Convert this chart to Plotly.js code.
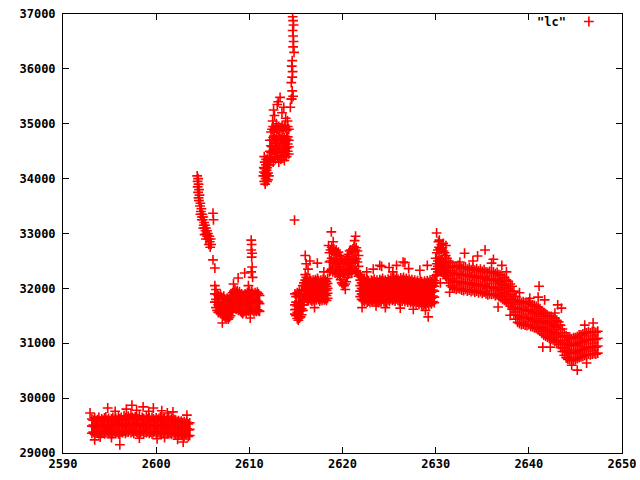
<!DOCTYPE html>
<html>
<head>
<meta charset="utf-8">
<script src="https://cdn.plot.ly/plotly-3.0.1.min.js"></script>
<style>html,body{margin:0;padding:0;background:#fff;}#chart{width:640px;height:480px;}</style>
</head>
<body>
<div id="chart"></div>
<script>
// ---- light curve "lc" : time (x) and flux (y) ----
// Segment A
var segAx = [2593.1,2593.25,2593.4,2593.55,2593.7,2593.85,2594.0,2594.15,2594.3,2594.45,2594.6,2594.75,2594.9,2595.05,2595.2,2595.35,2595.5,2595.65,2595.8,2595.95,2596.1,2596.25,2596.4,2596.55,2596.7,2596.85,2597.0,2597.15,2597.3,2597.45,2597.6,2597.75,2597.9,2598.05,2598.2,2598.35,2598.5,2598.65,2598.8,2598.95,2599.1,2599.25,2599.4,2599.55,2599.7,2599.85,2600.0,2600.15,2600.3,2600.45,2600.6,2600.75,2600.9,2601.05,2601.2,2601.35,2601.5,2601.65,2601.8,2601.95,2602.1,2602.25,2602.4,2602.55,2602.7,2602.85,2603.0,2603.15,2603.3,2603.45,2603.6];
var segAhi = [29620,29600,29640,29590,29610,29650,29580,29620,29600,29640,29660,29600,29630,29590,29620,29650,29600,29640,29610,29660,29620,29650,29600,29680,29640,29620,29670,29630,29700,29650,29610,29660,29640,29620,29680,29600,29650,29630,29610,29660,29620,29640,29600,29650,29620,29600,29640,29610,29630,29660,29600,29620,29640,29590,29610,29650,29600,29620,29580,29610,29600,29570,29590,29560,29580,29550,29570,29540,29560,29530,29550];
var segAmid = [29490,29510,29480,29500,29470,29520,29490,29500,29480,29510,29500,29490,29520,29480,29500,29510,29490,29530,29500,29510,29490,29520,29500,29530,29510,29490,29540,29510,29520,29500,29510,29530,29500,29520,29490,29510,29530,29500,29490,29520,29500,29510,29490,29520,29500,29480,29510,29490,29500,29520,29490,29500,29510,29480,29500,29490,29470,29500,29480,29470,29460,29480,29450,29470,29440,29460,29430,29450,29440,29420,29430];
var segAlo = [29360,29380,29340,29390,29370,29350,29400,29360,29380,29350,29370,29390,29360,29380,29340,29370,29390,29360,29380,29350,29330,29380,29370,29400,29360,29390,29380,29410,29370,29390,29360,29400,29380,29350,29390,29370,29400,29360,29380,29370,29390,29360,29380,29350,29370,29390,29360,29380,29370,29350,29380,29360,29370,29390,29350,29370,29360,29340,29370,29350,29340,29360,29330,29350,29320,29340,29310,29330,29320,29300,29320];
var segAoutX = [2592.9,2593.4,2594.0,2594.8,2595.6,2596.1,2596.8,2597.4,2597.9,2598.6,2599.2,2599.7,2600.1,2600.6,2601.2,2601.8,2602.3,2602.9,2603.3,2595.2,2598.2,2600.9];
var segAoutY = [29730,29240,29290,29820,29760,29150,29800,29870,29780,29840,29760,29820,29260,29770,29730,29750,29250,29200,29690,29280,29270,29280];
// Segment B (steep decline)
var segBx = [2604.4,2604.45,2604.5,2604.45,2604.55,2604.5,2604.6,2604.55,2604.65,2604.7,2604.75,2604.8,2604.85,2604.9,2604.95,2605.0,2605.05,2605.1,2605.15,2605.2,2605.25,2605.3,2605.35,2605.4,2605.45,2605.5,2605.55,2605.6,2605.7,2605.75,2605.85,2605.9];
var segBy = [34050,33950,34000,33850,33900,33750,33800,33650,33700,33500,33550,33400,33450,33300,33350,33250,33300,33150,33200,33100,33150,33050,33100,33000,33050,32950,33000,32900,32950,32850,32900,32800];
var segB2x = [2604.6,2604.75,2604.9,2605.05,2605.2,2605.35,2605.5,2605.65,2605.8,2606.1,2606.15,2606.1,2606.3];
var segB2y = [33600,33350,33250,33100,32980,32900,32950,32800,32750,33370,33250,32520,32370];
// Segment C
var segCx = [2606.3,2606.42,2606.54,2606.66,2606.78,2606.9,2607.02,2607.14,2607.26,2607.38,2607.5,2607.62,2607.74,2607.86,2607.98,2608.1,2608.22,2608.34,2608.46,2608.58,2608.7,2608.82,2608.94,2609.06,2609.18,2609.3,2609.42,2609.54,2609.66,2609.78,2609.9,2610.02,2610.14,2610.26,2610.38,2610.5,2610.62,2610.74,2610.86,2610.98,2611.1];
var segChi = [32050,31980,31900,31870,31850,31880,31840,31820,31860,31800,31780,31820,31760,31800,31840,31880,31920,31950,31980,31930,31960,31900,31940,31880,31900,31850,31870,31900,31880,31920,31890,31940,31900,31950,31910,31880,31920,31890,31930,31900,31870];
var segCmid = [31900,31800,31750,31700,31720,31680,31710,31660,31690,31640,31620,31650,31600,31640,31680,31720,31760,31800,31820,31780,31800,31760,31780,31720,31740,31700,31720,31750,31730,31760,31740,31770,31750,31790,31760,31730,31760,31740,31770,31750,31720];
var segClo = [31750,31650,31600,31560,31580,31540,31570,31520,31500,31480,31460,31480,31440,31470,31500,31560,31600,31640,31660,31620,31640,31600,31620,31580,31560,31540,31570,31590,31560,31600,31580,31610,31590,31620,31600,31570,31600,31580,31610,31590,31580];
var segCoutX = [2610.2,2610.25,2610.2,2610.3,2610.25,2610.3,2610.2,2610.35,2608.8,2609.5,2607.1,2610.1,2609.9,2608.3];
var segCoutY = [32880,32800,32700,32640,32570,32390,32300,32200,32190,32280,31370,31460,32050,32080];
// Segment D (brightening)
var segDlowX = [2611.5,2611.55,2611.6,2611.65,2611.7,2611.75,2611.8,2611.85,2611.9,2611.95,2612.0,2612.05,2612.1,2611.6,2611.7,2611.8,2611.9,2612.0,2611.55,2611.75,2611.95,2611.65,2611.85,2612.05];
var segDlowY = [34050,34200,33950,34300,34100,34000,34250,34150,33950,34350,34100,34250,34050,34400,33900,34350,34200,33980,34120,34050,34300,34180,34080,34330];
var segDx = [2612.2,2612.32,2612.44,2612.56,2612.68,2612.8,2612.92,2613.04,2613.16,2613.28,2613.4,2613.52,2613.64,2613.76,2613.88,2614.0,2614.12,2614.24];
var segDhi = [34700,34850,34900,34950,34880,34920,34960,34900,34950,34880,34930,34970,34900,34950,34920,34880,34950,34900];
var segDmid = [34500,34600,34700,34750,34650,34720,34780,34700,34760,34650,34720,34780,34700,34740,34680,34720,34760,34700];
var segDml = [34380,34480,34580,34520,34530,34540,34640,34540,34530,34540,34530,34630,34550,34540,34560,34560,34630,34580];
var segDlo = [34250,34350,34450,34300,34400,34350,34500,34380,34300,34420,34350,34480,34400,34330,34450,34400,34500,34450];
var segDtopX = [2612.5,2612.7,2612.9,2613.1,2613.3,2613.5,2613.7,2613.9,2614.1,2612.6,2613.0,2614.4,2614.5,2614.55,2614.6,2614.5,2614.6,2614.65,2614.55,2614.6,2614.7,2614.65,2614.7,2614.75,2614.65,2614.7,2614.75,2614.7,2614.8,2614.85];
var segDtopY = [35050,35150,35000,35400,35480,35200,35300,35100,35050,35250,35350,35300,35450,35450,35600,35750,35850,35950,36050,36150,35500,36950,36880,36800,36700,36600,36500,36400,36300,33245];
// Segment E
var segE1x = [2614.9,2615.02,2615.14,2615.26,2615.38,2615.5,2615.62,2615.74,2615.86];
var segE1hi = [31900,31850,31920,31880,31950,31900,31980,32050,32100];
var segE1mid = [31700,31750,31680,31720,31760,31700,31750,31800,31880];
var segE1ml = [31610,31620,31560,31570,31610,31590,31630,31700,31790];
var segE1lo = [31530,31500,31450,31420,31460,31480,31520,31600,31700];
var segE2x = [2616.0,2616.12,2616.24,2616.36,2616.48,2616.6,2616.72,2616.84,2616.96,2617.08,2617.2,2617.32,2617.44,2617.56,2617.68,2617.8,2617.92,2618.04,2618.16,2618.28,2618.4];
var segE2hi = [32250,32200,32150,32120,32180,32140,32100,32150,32120,32160,32130,32180,32140,32100,32150,32120,32170,32130,32150,32120,32180];
var segE2mh = [32150,32100,32070,32040,32090,32060,32020,32070,32040,32080,32050,32100,32060,32030,32070,32040,32090,32050,32070,32040,32090];
var segE2mid = [32050,32000,31980,31960,32000,31970,31940,31990,31960,32000,31970,32010,31980,31950,31990,31960,32000,31970,31990,31960,32000];
var segE2ml = [31950,31910,31890,31870,31910,31880,31860,31900,31870,31910,31880,31920,31890,31860,31900,31870,31910,31880,31900,31870,31910];
var segE2lo = [31850,31820,31800,31780,31820,31790,31770,31800,31780,31820,31790,31830,31800,31770,31810,31780,31820,31790,31810,31780,31820];
var segEoutX = [2616.0,2616.1,2616.5,2617.3,2616.3,2618.0,2617.0];
var segEoutY = [32600,32450,32500,32460,32350,32300,31650];
// Segment F
var segFx = [2618.6,2618.72,2618.84,2618.96,2619.08,2619.2,2619.32,2619.44,2619.56,2619.68,2619.8,2619.92,2620.04,2620.16,2620.28,2620.4,2620.52,2620.64,2620.76,2620.88,2621.0,2621.12,2621.24,2621.36,2621.48,2621.6,2621.72];
var segFhi = [32650,32700,32750,32680,32720,32650,32700,32620,32660,32600,32550,32520,32480,32450,32500,32520,32580,32620,32680,32700,32650,32720,32760,32700,32740,32680,32600];
var segFmid = [32480,32500,32550,32480,32520,32460,32500,32440,32460,32400,32350,32300,32280,32250,32280,32320,32380,32420,32480,32500,32460,32520,32550,32500,32540,32480,32400];
var segFlo = [32300,32320,32350,32300,32340,32280,32320,32260,32280,32220,32160,32100,32070,32050,32080,32120,32200,32260,32300,32320,32280,32340,32350,32300,32320,32280,32220];
var segFoutX = [2618.8,2621.4,2621.3,2619.0,2620.3,2618.5];
var segFoutY = [33030,32950,32870,32850,31980,32780];
// Segment G
var segGx = [2621.9,2622.05,2622.2,2622.35,2622.5,2622.65,2622.8,2622.95,2623.1,2623.25,2623.4,2623.55,2623.7,2623.85,2624.0,2624.15,2624.3,2624.45,2624.6,2624.75,2624.9,2625.05,2625.2,2625.35,2625.5,2625.65,2625.8,2625.95,2626.1,2626.25,2626.4,2626.55,2626.7,2626.85,2627.0,2627.15,2627.3,2627.45,2627.6,2627.75,2627.9,2628.05,2628.2,2628.35,2628.5,2628.65,2628.8,2628.95,2629.1,2629.25,2629.4,2629.55,2629.7,2629.85];
var segGhi = [32250,32200,32150,32180,32120,32160,32140,32100,32150,32130,32170,32120,32150,32110,32160,32140,32180,32130,32150,32120,32170,32140,32190,32150,32200,32160,32210,32170,32140,32190,32160,32200,32150,32180,32140,32170,32130,32160,32120,32150,32110,32140,32100,32150,32120,32090,32130,32100,32140,32110,32150,32120,32160,32140];
var segGmh = [32150,32100,32070,32070,32060,32050,32060,32020,32060,32040,32080,32040,32060,32020,32070,32050,32090,32040,32070,32030,32080,32060,32100,32060,32110,32080,32120,32080,32060,32100,32070,32110,32060,32090,32050,32080,32040,32070,32030,32060,32020,32050,32010,32050,32010,31990,32030,32000,32040,32010,32050,32020,32060,32040];
var segGmid = [32050,32000,31980,31960,31990,31950,31970,31940,31980,31960,31990,31950,31970,31940,31980,31960,32000,31960,31980,31950,31990,31970,32010,31980,32020,31990,32030,32000,31970,32010,31980,32020,31970,32000,31960,31990,31950,31980,31940,31970,31930,31960,31920,31950,31910,31890,31930,31900,31940,31910,31950,31930,31970,31950];
var segGml = [31950,31900,31880,31860,31890,31850,31870,31840,31880,31860,31890,31850,31870,31840,31880,31860,31900,31860,31880,31850,31890,31870,31910,31880,31910,31880,31920,31890,31860,31900,31870,31910,31860,31890,31850,31880,31840,31870,31830,31860,31820,31850,31810,31840,31800,31780,31820,31790,31830,31800,31840,31820,31860,31840];
var segGlo = [31850,31800,31780,31760,31790,31750,31770,31740,31780,31760,31790,31750,31770,31740,31780,31760,31800,31760,31780,31750,31790,31770,31810,31780,31800,31770,31810,31780,31760,31800,31770,31800,31760,31790,31750,31780,31740,31770,31730,31760,31720,31750,31710,31740,31700,31680,31720,31690,31730,31700,31740,31720,31760,31740];
var segGoutX = [2622.1,2622.6,2623.3,2624.0,2624.2,2625.0,2625.8,2626.5,2626.7,2626.2,2627.6,2628.3,2629.1,2629.2,2624.6,2625.4,2627.1,2628.9,2623.6];
var segGoutY = [31650,32300,32350,32420,32400,32380,32420,32480,32470,31640,31620,32330,32420,31480,31650,32300,32360,31600,31680];
// Segment H
var segHx = [2630.0,2630.12,2630.24,2630.36,2630.48,2630.6,2630.72,2630.84,2630.96,2631.08,2631.2];
var segHhi = [32550,32650,32700,32750,32720,32700,32740,32680,32650,32600,32550];
var segHmid = [32350,32450,32500,32550,32520,32500,32530,32480,32450,32420,32380];
var segHml = [32230,32350,32400,32450,32420,32400,32430,32380,32350,32320,32280];
var segHlo = [32100,32250,32300,32350,32320,32300,32330,32280,32250,32220,32180];
var segHoutX = [2630.1,2630.4,2630.8,2631.1,2630.3,2630.6,2630.5];
var segHoutY = [33010,32880,32820,32780,32850,32800,32100];
// Segment I (slow decline)
var segIx = [2631.4,2631.6,2631.8,2632.0,2632.2,2632.4,2632.6,2632.8,2633.0,2633.2,2633.4,2633.6,2633.8,2634.0,2634.2,2634.4,2634.6,2634.8,2635.0,2635.2,2635.4,2635.6,2635.8,2636.0,2636.2,2636.4,2636.6,2636.8,2637.0,2637.2,2637.4,2637.6,2637.8,2638.0,2638.2,2638.4,2638.6,2638.8,2639.0,2639.2,2639.4,2639.6,2639.8,2640.0,2640.2,2640.4,2640.6,2640.8,2641.0,2641.2,2641.4,2641.6,2641.8,2642.0,2642.2,2642.4,2642.6,2642.8,2643.0,2643.2,2643.4,2643.6,2643.8,2644.0,2644.2,2644.4,2644.6,2644.8,2645.0,2645.2,2645.4,2645.6,2645.8,2646.0,2646.2,2646.4,2646.6,2646.8,2647.0,2647.2,2647.4];
var segIhi = [32500,32470,32410,32400,32390,32420,32380,32370,32380,32390,32350,32380,32340,32370,32330,32360,32320,32350,32310,32340,32300,32290,32310,32280,32300,32270,32290,32250,32240,32200,32190,32150,32130,32080,32040,31950,31850,31780,31760,31740,31760,31730,31720,31750,31710,31700,31690,31670,31660,31630,31590,31560,31540,31510,31490,31490,31460,31450,31420,31390,31330,31260,31190,31140,31110,31110,31080,31100,31100,31120,31150,31150,31170,31190,31190,31210,31190,31210,31210,31200,31220];
var segImh = [32370,32320,32290,32270,32250,32270,32260,32240,32230,32250,32220,32240,32210,32230,32200,32220,32190,32210,32180,32200,32170,32150,32170,32160,32170,32140,32150,32120,32100,32070,32050,32020,31990,31950,31890,31790,31710,31650,31630,31610,31620,31600,31590,31610,31580,31570,31550,31540,31520,31490,31450,31420,31400,31380,31360,31350,31330,31310,31290,31250,31190,31120,31050,31010,30980,30970,30950,30960,30970,30990,31010,31020,31030,31050,31060,31070,31060,31070,31080,31070,31090];
var segIml = [32230,32180,32150,32130,32110,32130,32120,32100,32090,32110,32080,32100,32070,32090,32060,32080,32050,32070,32040,32060,32030,32010,32030,32020,32030,32000,32010,31980,31960,31930,31910,31880,31850,31810,31750,31650,31570,31510,31490,31470,31480,31460,31450,31470,31440,31430,31410,31400,31380,31350,31310,31280,31260,31240,31220,31210,31190,31170,31150,31110,31050,30980,30910,30870,30840,30830,30810,30820,30830,30850,30870,30880,30890,30910,30920,30930,30920,30930,30940,30930,30950];
var segIlo = [32100,32050,32020,32000,31980,32000,31990,31970,31960,31980,31950,31970,31940,31960,31930,31950,31920,31940,31910,31930,31900,31880,31900,31890,31900,31870,31880,31850,31830,31800,31780,31750,31720,31680,31620,31520,31440,31380,31360,31340,31350,31330,31320,31340,31310,31300,31280,31270,31250,31220,31180,31150,31130,31110,31090,31080,31060,31040,31020,30980,30920,30850,30780,30740,30710,30700,30680,30690,30700,30720,30740,30750,30760,30780,30790,30800,30790,30800,30810,30800,30820];
var segIoutX = [2633.1,2634.5,2635.3,2636.2,2637.1,2636.0,2641.1,2641.0,2641.7,2643.1,2643.5,2641.5,2642.3,2646.0,2646.9,2645.2,2644.1,2646.2,2638.0,2639.0,2640.1,2636.7,2631.5,2632.6,2634.0,2637.6,2642.8,2644.6];
var segIoutY = [32640,32590,32700,32530,32420,32460,32040,31840,31790,31700,31640,30930,30930,31330,31370,30510,30730,30640,31510,31920,31820,31660,31930,32480,32500,32300,31550,30600];

var xTickVals = [2590,2600,2610,2620,2630,2640,2650];
var yTickVals = [29000,30000,31000,32000,33000,34000,35000,36000,37000];
var seriesName = '"lc"';

// ---- assemble the point list ----
var X = [], Y = [];
function addLevels(xs, levels) {
  levels.forEach(function (lv) {
    for (var i = 0; i < xs.length && i < lv.length; i++) { X.push(xs[i]); Y.push(lv[i]); }
  });
}
addLevels(segAx, [segAhi, segAmid, segAlo]);
addLevels(segAoutX, [segAoutY]);
addLevels(segBx, [segBy]);
addLevels(segB2x, [segB2y]);
addLevels(segCx, [segChi, segCmid, segClo]);
addLevels(segCoutX, [segCoutY]);
addLevels(segDlowX, [segDlowY]);
addLevels(segDx, [segDhi, segDmid, segDml, segDlo]);
addLevels(segDtopX, [segDtopY]);
addLevels(segE1x, [segE1hi, segE1mid, segE1ml, segE1lo]);
addLevels(segE2x, [segE2hi, segE2mh, segE2mid, segE2ml, segE2lo]);
addLevels(segEoutX, [segEoutY]);
addLevels(segFx, [segFhi, segFmid, segFlo]);
addLevels(segFoutX, [segFoutY]);
addLevels(segGx, [segGhi, segGmh, segGmid, segGml, segGlo]);
addLevels(segGoutX, [segGoutY]);
addLevels(segHx, [segHhi, segHmid, segHml, segHlo]);
addLevels(segHoutX, [segHoutY]);
addLevels(segIx, [segIhi, segImh, segIml, segIlo]);
addLevels(segIoutX, [segIoutY]);

var fontFamily = '"DejaVu Sans Mono", monospace';

var trace = {
  type: 'scatter', mode: 'markers', x: X, y: Y, name: ' ',
  marker: {symbol: 'cross-thin', size: 7, color: '#ff0000', line: {color: '#ff0000', width: 1.6}},
  hoverinfo: 'skip'
};

var axisCommon = {
  showgrid: false, zeroline: false, showline: true, linecolor: '#000', linewidth: 1,
  mirror: 'allticks', ticks: 'inside', ticklen: 6, tickcolor: '#000', tickwidth: 1,
  tickfont: {family: fontFamily, size: 12, color: '#000', weight: 'bold'}, tickmode: 'array'
};

var layout = {
  width: 640, height: 480,
  margin: {l: 63, r: 18, t: 14, b: 27, pad: 0, autoexpand: false},
  paper_bgcolor: '#fff', plot_bgcolor: '#fff',
  showlegend: true,
  legend: {x: 0.905, xanchor: 'left', y: 1.016, yanchor: 'top', bgcolor: 'rgba(0,0,0,0)', borderwidth: 0,
           font: {family: fontFamily, size: 12}},
  xaxis: Object.assign({}, axisCommon, {range: [2590, 2650], tickvals: xTickVals, ticktext: xTickVals.map(String)}),
  yaxis: Object.assign({}, axisCommon, {range: [29000, 37000], tickvals: yTickVals, ticktext: yTickVals.map(String), ticklabelstandoff: 4}),
  annotations: [{
    xref: 'paper', yref: 'paper', x: 0.903, y: 0.982, xanchor: 'right', yanchor: 'middle',
    text: seriesName, showarrow: false,
    font: {family: fontFamily, size: 12, color: '#000', weight: 'bold'}
  }]
};

Plotly.newPlot('chart', [trace], layout, {staticPlot: true, displayModeBar: false});
</script>
</body>
</html>
